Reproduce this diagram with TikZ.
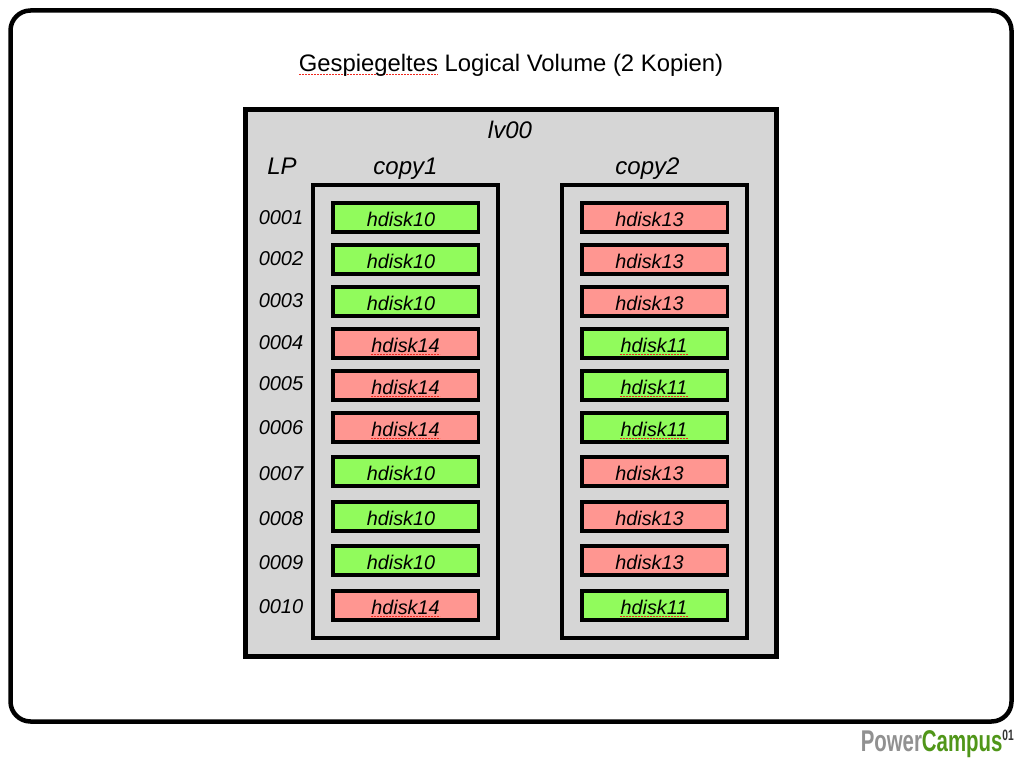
\documentclass[tikz,border=0pt]{standalone}
\usepackage{fontspec}
\setmainfont{Liberation Sans}
\usetikzlibrary{calc}
\definecolor{gbar}{RGB}{145,251,92}
\definecolor{rbar}{RGB}{255,150,145}
\definecolor{panel}{RGB}{214,214,214}
\definecolor{logogreen}{RGB}{80,150,25}
\definecolor{logogray}{RGB}{145,145,145}
\definecolor{squig}{RGB}{240,40,30}
\tikzset{
  x=1pt,y=-1pt,
  frame/.style={draw=black,line width=4.5pt,rounded corners=20pt,fill=white},
  lvbox/.style={draw=black,line width=5pt,fill=panel},
  copybox/.style={draw=black,line width=4pt,fill=panel},
  bar/.style={draw=black,line width=3.5pt,minimum width=145.5pt,minimum height=29pt,inner sep=0pt,outer sep=0pt},
  greenbar/.style={bar,fill=gbar},
  redbar/.style={bar,fill=rbar},
  lbl/.style={inner sep=0pt,font=\fontsize{#1}{#1}\selectfont\itshape,text=black},
  squiggle/.style={draw=squig,line width=1.5pt,dash pattern=on 2pt off 1pt},
}
\begin{document}
\begin{tikzpicture}
\useasboundingbox (0,0) rectangle (1022,767);
\fill[white] (0,0) rectangle (1022,767);
\draw[frame] (10.5,10.5) rectangle (1011.5,721.5);
\draw[squiggle] (299,74.5) -- (438,74.5);
\node[inner sep=0pt,font=\fontsize{23.85}{23.85}\selectfont,anchor=base,text=black] (title) at (511,71.5)
  {Gespiegeltes Logical Volume (2 Kopien)};
\draw[lvbox] (245.5,109.5) rectangle (776.5,656.5);
\node[lbl=24] (lv) at (510,130) {lv00};
\node[lbl=24] (lp) at (282,166.5) {LP};
\node[lbl=24] (c1) at (405.5,169) {copy1};
\node[lbl=24] (c2) at (647.5,169) {copy2};
\draw[copybox] (313,185) rectangle (498,638);
\draw[copybox] (562,185) rectangle (747,638);
\foreach \n/\t/\ly/\a/\ta/\b/\tb in {
  1/0001/218/217.5/10/217.5/13,
  2/0002/259/259.5/10/259.5/13,
  3/0003/300.5/301.5/10/301.5/13,
  4/0004/342.5/343.5/14/343.5/11,
  5/0005/384/385.5/14/385.5/11,
  6/0006/428/427.5/14/427.5/11,
  7/0007/473.5/471.5/10/471.5/13,
  8/0008/518.5/516.5/10/516.5/13,
  9/0009/562.5/560.5/10/560.5/13,
  10/0010/606.5/605.5/14/605.5/11}{
  \node[lbl=20] (lp\n) at (281,\ly) {\t};
  \ifnum\ta=10 \def\sa{greenbar}\else \def\sa{redbar}\fi
  \ifnum\tb=13 \def\sb{redbar}\else \def\sb{greenbar}\fi
  \node[\sa] (l\n) at (405.5,\a) {};
  \node[\sb] (r\n) at (654.5,\b) {};
  \ifnum\ta=10
    \node[lbl=19.8] (lt\n) at (401,\a+2) {hdisk10};
  \else
    \draw[squiggle] (371,\a+10.8) -- (440,\a+10.8);
    \node[lbl=19.8] (lt\n) at (405.5,\a+2) {hdisk14};
  \fi
  \ifnum\tb=13
    \node[lbl=19.8] (rt\n) at (649.5,\b+2) {hdisk13};
  \else
    \draw[squiggle] (620,\b+10.8) -- (688,\b+10.8);
    \node[lbl=19.8] (rt\n) at (654,\b+2) {hdisk11};
  \fi
}
\node[inner sep=0pt,anchor=base east] (logo) at (1014,751)
 {\scalebox{0.68}[1]{\fontsize{30}{30}\selectfont\bfseries\textcolor{logogray}{Power}\textcolor{logogreen}{Campus}\raisebox{11pt}{\fontsize{15}{15}\selectfont\color{black!80}01}}};
\end{tikzpicture}
\end{document}
